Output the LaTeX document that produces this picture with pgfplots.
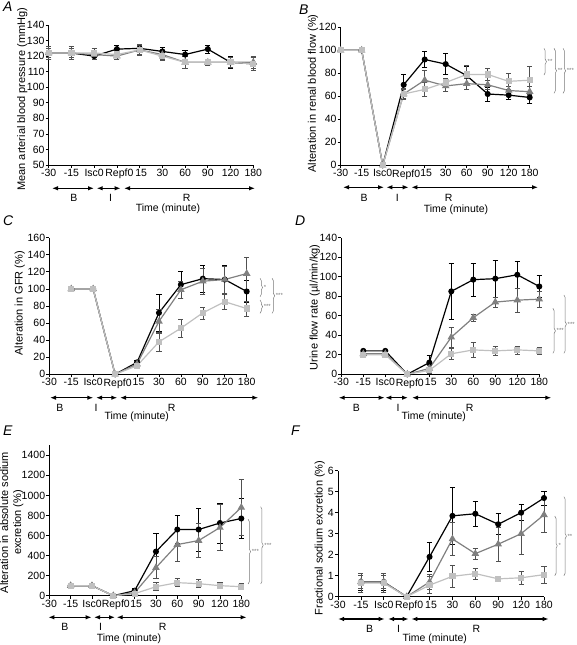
\documentclass[border=0pt]{standalone}
\usepackage{fontspec}
\setmainfont{Liberation Sans}
\usepackage{pgfplots}
\pgfplotsset{compat=1.18}
\usetikzlibrary{arrows.meta,decorations.pathreplacing}
\definecolor{cgray}{RGB}{128,128,128}
\definecolor{clight}{RGB}{192,192,192}
\definecolor{ebar}{RGB}{80,80,80}
\definecolor{brc}{RGB}{120,120,120}
\newcommand{\fs}{\fontsize{10.5}{12}\selectfont}
\newcommand{\fl}{\fontsize{11}{13}\selectfont}
\pgfplotsset{
  panel/.style={
    scale only axis, anchor=south west, clip=false,
    axis lines*=left,
    axis line style={line width=0.8pt, black},
    xmin=0, xmax=9, xtick={0,...,9},
    xticklabels={-30,-15,Isc0,\hspace*{5pt}Repf0,\hspace*{3pt}15,30,60,90,120,180},
    tick align=outside, major tick length=3pt,
    tick style={line width=0.7pt, black},
    tick label style={font=\fs, inner sep=1pt},
    label style={font=\fl},
    ylabel style={align=center, inner sep=0pt, anchor=center},
    /pgf/number format/assume math mode=true,
    /pgf/number format/1000 sep={},
    error bars/y dir=both, error bars/y explicit,
  },
  serA/.style={black, line width=1.2pt, mark=*, mark size=2.4pt, mark options={solid},
    error bars/error bar style={black, line width=0.6pt},
    error bars/error mark options={rotate=90, black, mark size=2.6pt, line width=0.6pt}},
  serB/.style={cgray, line width=1.2pt, mark=triangle*, mark size=3.2pt, mark options={solid},
    error bars/error bar style={ebar, line width=0.6pt},
    error bars/error mark options={rotate=90, ebar, mark size=2.6pt, line width=0.6pt}},
  serC/.style={clight, line width=1.2pt, mark=square*, mark size=2.5pt, mark options={solid},
    error bars/error bar style={ebar, line width=0.6pt},
    error bars/error mark options={rotate=90, ebar, mark size=2.6pt, line width=0.6pt}},
}
\tikzset{
  sigbrace/.style={brc, line width=0.5pt, decorate, decoration={brace, amplitude=2.5pt}},
  arr/.style={{Latex[length=6pt,width=4.5pt]}-{Latex[length=6pt,width=4.5pt]}, line width=1.2pt, black},
  lab/.style={font=\fs, inner sep=0pt},
  star/.style={font=\fontsize{6}{7}\selectfont, brc, anchor=west, inner sep=0pt, xshift=3.5pt},
  letter/.style={font=\fontsize{14}{16}\selectfont\itshape, anchor=north west, inner sep=0pt},
}
\begin{document}
\begin{tikzpicture}
\useasboundingbox (0,0) rectangle (576pt,645pt);

% ---------- A ----------
\begin{axis}[panel, at={(48.7pt,480pt)}, width=204.6pt, height=140pt,
  ymin=50, ymax=140, ytick={50,60,...,140},
  ylabel style={at={(axis description cs:-0.129,0.47)}},
  ylabel={Mean arterial blood pressure (mmHg)}]
\addplot[serA] coordinates {(0,122) +- (0,4) (1,122) +- (0,4) (2,120) +- (0,2) (3,124.5) +- (0,2.5) (4,125) +- (0,2.5) (5,123) +- (0,2.5) (6,121) +- (0,3) (7,124.5) +- (0,2.5) (8,116) +- (0,4) (9,115) +- (0,4)};
\addplot[serB] coordinates {(0,122) +- (0,4) (1,122) +- (0,4) (2,121) +- (0,3) (3,120) +- (0,2) (4,124) +- (0,3) (5,121) +- (0,3) (6,116) +- (0,4) (7,116) +- (0,2) (8,116) +- (0,3) (9,116) +- (0,4)};
\addplot[serC] coordinates {(0,122) +- (0,3) (1,122) +- (0,3) (2,122) +- (0,3) (3,121) +- (0,3) (4,124) +- (0,3.5) (5,120) +- (0,3) (6,116) +- (0,4) (7,116) +- (0,2) (8,116) +- (0,3) (9,115) +- (0,4)};
\end{axis}

% ---------- B ----------
\begin{axis}[panel, at={(340.7pt,479.7pt)}, width=189pt, height=138pt,
  ymin=0, ymax=120, ytick={0,20,...,120},
  ylabel style={at={(axis description cs:-0.147,0.52)}},
  ylabel={Alteration in renal blood flow (\%)}]
\addplot[serA] coordinates {(0,100) (1,100) (2,0) (3,70) +- (0,9) (4,92) +- (0,7) (5,88) +- (0,9) (6,78) +- (0,8) (7,62) +- (0,6) (8,61) +- (0,4) (9,59) +- (0,5)};
\addplot[serB] coordinates {(0,100) (1,100) (2,0) (3,62) +- (0,4) (4,74) +- (0,9) (5,69) +- (0,5) (6,71) +- (0,5) (7,70) +- (0,4) (8,65) +- (0,4) (9,64) +- (0,5)};
\addplot[serC] coordinates {(0,100) (1,100) (2,0) (3,62) +- (0,5) (4,66) +- (0,6) (5,72) +- (0,4) (6,79) +- (0,8) (7,79) +- (0,5) (8,73) +- (0,7) (9,74) +- (0,12)};
\draw[sigbrace] (axis cs:9.68,101.7) -- (axis cs:9.68,78.5) node[midway,star]{**};
\draw[sigbrace] (axis cs:10.16,101.7) -- (axis cs:10.16,62.6) node[midway,star]{**};
\draw[sigbrace] (axis cs:10.59,101.7) -- (axis cs:10.59,62.6) node[midway,star]{***};
\end{axis}

% ---------- C ----------
\begin{axis}[panel, at={(49.3pt,270.7pt)}, width=197.4pt, height=136.6pt,
  ymin=0, ymax=160, ytick={0,20,...,160},
  ylabel style={at={(axis description cs:-0.15,0.52)}},
  ylabel={Alteration in GFR (\%)}]
\addplot[serA] coordinates {(1,100) (2,100) (3,0) (4,14) +- (0,2) (5,72) +- (0,22) (6,105) +- (0,16) (7,112) +- (0,16) (8,111) +- (0,17) (9,97) +- (0,13)};
\addplot[serB] coordinates {(1,100) (2,100) (3,0) (4,12) +- (0,2) (5,62) +- (0,14) (6,99) +- (0,10) (7,109) +- (0,15) (8,111) +- (0,16) (9,118) +- (0,19)};
\addplot[serC] coordinates {(1,100) (2,100) (3,0) (4,10) +- (0,3) (5,38) +- (0,11) (6,54) +- (0,11) (7,72) +- (0,7) (8,85) +- (0,9) (9,77) +- (0,9)};
\draw[sigbrace] (axis cs:9.61,112.4) -- (axis cs:9.61,90.9) node[midway,star]{*};
\draw[sigbrace] (axis cs:9.61,87) -- (axis cs:9.61,71.4) node[midway,star]{***};
\draw[sigbrace] (axis cs:10.16,112.4) -- (axis cs:10.16,71.4) node[midway,star]{***};
\end{axis}

% ---------- D ----------
\begin{axis}[panel, at={(341.3pt,270.7pt)}, width=198pt, height=136.6pt,
  ymin=0, ymax=140, ytick={0,20,...,140},
  ylabel style={at={(axis description cs:-0.134,0.49)}},
  ylabel={Urine flow rate (µl/min/kg)}]
\addplot[serA] coordinates {(1,24) +- (0,1) (2,24) +- (0,1) (3,0) (4,12) +- (0,7) (5,85) +- (0,29) (6,97) +- (0,17) (7,98) +- (0,19) (8,102) +- (0,14) (9,90) +- (0,11)};
\addplot[serB] coordinates {(1,21) +- (0,4) (2,21) +- (0,3) (3,0) (4,6) +- (0,3) (5,38) +- (0,10) (6,58) +- (0,4) (7,74) +- (0,5) (8,76) +- (0,12) (9,77) +- (0,8)};
\addplot[serC] coordinates {(1,20) +- (0,3) (2,20) +- (0,3) (3,0) (4,4) +- (0,3) (5,21) +- (0,6) (6,25) +- (0,8) (7,24) +- (0,5) (8,25) +- (0,4) (9,24) +- (0,4)};
\draw[sigbrace] (axis cs:9.62,67.6) -- (axis cs:9.62,21.5) node[midway,star]{***};
\draw[sigbrace] (axis cs:10.12,81.3) -- (axis cs:10.12,21.5) node[midway,star]{***};
\end{axis}

% ---------- E ----------
\begin{axis}[panel, at={(49.3pt,49.3pt)}, width=192pt, height=150.4pt,
  ymin=0, ymax=1500, ytick={0,200,...,1400},
  ylabel style={at={(axis description cs:-0.196,0.487)}},
  ylabel={Alteration in absolute sodium\\excretion (\%)}]
\addplot[serA] coordinates {(1,100) (2,100) (3,0) (4,50) +- (0,20) (5,440) +- (0,180) (6,660) +- (0,140) (7,660) +- (0,215) (8,725) +- (0,200) (9,770) +- (0,200)};
\addplot[serB] coordinates {(1,100) (2,100) (3,0) (4,30) +- (0,15) (5,280) +- (0,110) (6,510) +- (0,165) (7,550) +- (0,170) (8,680) +- (0,230) (9,880) +- (0,280)};
\addplot[serC] coordinates {(1,100) +- (0,20) (2,100) +- (0,20) (3,0) (4,20) +- (0,10) (5,90) +- (0,40) (6,130) +- (0,40) (7,120) +- (0,40) (8,100) +- (0,30) (9,90) +- (0,30)};
\draw[sigbrace] (axis cs:9.32,762) -- (axis cs:9.32,117) node[midway,star]{***};
\draw[sigbrace] (axis cs:9.91,887) -- (axis cs:9.91,117) node[midway,star]{***};
\end{axis}

% ---------- F ----------
\begin{axis}[panel, at={(338pt,48.3pt)}, width=206pt, height=126pt,
  ymin=0, ymax=6, ytick={0,1,...,6},
  ylabel style={at={(axis description cs:-0.089,0.466)}},
  ylabel={Fractional sodium excretion (\%)}]
\addplot[serA] coordinates {(1,0.7) +- (0,0.4) (2,0.7) +- (0,0.4) (3,0) (4,1.9) +- (0,0.7) (5,3.85) +- (0,1.35) (6,3.95) +- (0,0.6) (7,3.45) +- (0,0.5) (8,4.0) +- (0,0.38) (9,4.7) +- (0,0.33)};
\addplot[serB] coordinates {(1,0.7) +- (0,0.3) (2,0.7) +- (0,0.3) (3,0) (4,0.7) +- (0,0.35) (5,2.75) +- (0,0.8) (6,2.05) +- (0,0.25) (7,2.5) +- (0,0.8) (8,3.0) +- (0,1.0) (9,3.9) +- (0,0.85)};
\addplot[serC] coordinates {(1,0.65) +- (0,0.45) (2,0.65) +- (0,0.45) (3,0) (4,0.55) +- (0,0.4) (5,0.97) +- (0,0.53) (6,1.1) +- (0,0.25) (7,0.85) +- (0,0.05) (8,0.9) +- (0,0.3) (9,1.05) +- (0,0.4)};
\draw[sigbrace] (axis cs:9.47,3.84) -- (axis cs:9.47,1.0) node[midway,star]{*};
\draw[sigbrace] (axis cs:9.87,4.76) -- (axis cs:9.87,1.0) node[midway,star]{**};
\end{axis}

% ---------- annotations (pixel coordinates, y downwards) ----------
\begin{scope}[x=1pt, y=-1pt, yshift=645pt]
\node[letter] at (3,2) {A};
\node[letter] at (299,5) {B};
\node[letter] at (3,216) {C};
\node[letter] at (295,216) {D};
\node[letter] at (3,426) {E};
\node[letter] at (291,426) {F};
% A
\draw[arr] (52,188.3) -- (94,188.3);
\draw[arr] (96.7,188.3) -- (120.7,188.3);
\draw[arr] (124,188.3) -- (255,188.3);
\node[lab] at (74,198) {B};
\node[lab] at (110.7,198) {I};
\node[lab] at (186.7,198) {R};
\node[lab] at (168,208.5) {Time (minute)};
% B
\draw[arr] (343,187.3) -- (384,187.3);
\draw[arr] (386.3,187.3) -- (408.7,187.3);
\draw[arr] (411.3,187.3) -- (538,187.3);
\node[lab] at (364,197.5) {B};
\node[lab] at (397.3,197.5) {I};
\node[lab] at (448.7,197.5) {R};
\node[lab] at (456,210) {Time (minute)};
% C
\draw[arr] (50,397.7) -- (93.3,397.7);
\draw[arr] (96,397.7) -- (117.3,397.7);
\draw[arr] (120,397.7) -- (258.3,397.7);
\node[lab] at (60,407.7) {B};
\node[lab] at (96,407.7) {I};
\node[lab] at (171.7,407.7) {R};
\node[lab] at (136.7,417) {Time (minute)};
% D
\draw[arr] (338.7,397.7) -- (384.7,397.7);
\draw[arr] (385.3,397.7) -- (408,397.7);
\draw[arr] (412,397.7) -- (551.3,397.7);
\node[lab] at (356.3,408.3) {B};
\node[lab] at (398,408.3) {I};
\node[lab] at (469.7,408.3) {R};
\node[lab] at (433.7,417) {Time (minute)};
% E
\draw[arr] (48.3,617.3) -- (91.7,617.3);
\draw[arr] (94,617.3) -- (115,617.3);
\draw[arr] (116.7,617.3) -- (246.7,617.3);
\node[lab] at (65,627.3) {B};
\node[lab] at (100.7,627.3) {I};
\node[lab] at (162.7,627.3) {R};
\node[lab] at (129,639) {Time (minute)};
% F
\draw[arr] (338,619) -- (384.7,619);
\draw[arr] (388,619) -- (408.7,619);
\draw[arr] (411.3,619) -- (548.7,619);
\node[lab] at (369.7,629.3) {B};
\node[lab] at (398.7,629.3) {I};
\node[lab] at (476.3,629.3) {R};
\node[lab] at (434.7,639) {Time (minute)};
\end{scope}
\end{tikzpicture}
\end{document}
